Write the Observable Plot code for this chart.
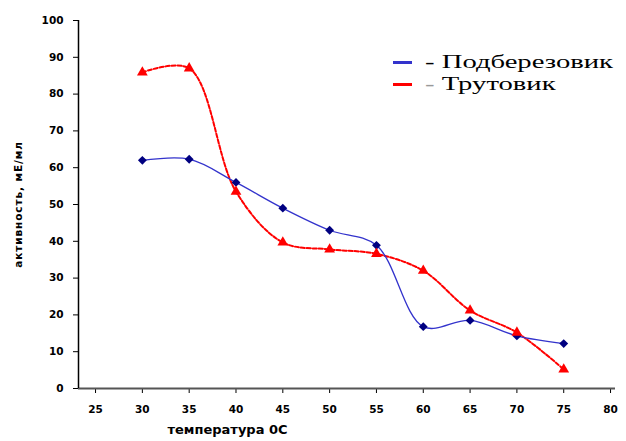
<!DOCTYPE html>
<html>
<head>
<meta charset="utf-8">
<script src="https://cdn.jsdelivr.net/npm/d3@7"></script>
<script src="https://cdn.jsdelivr.net/npm/@observablehq/plot@0.6"></script>
<style>
  html, body { margin: 0; padding: 0; background: #fff; }
  #wrap { position: relative; width: 626px; height: 441px; }
  #legend { position: absolute; left: 393px; top: 51px; font-family: "Liberation Serif", "Times New Roman", serif; font-size: 18px; line-height: 22px; color: #000; }
  #legend .row { display: flex; align-items: center; white-space: nowrap; height: 22px; }
  #legend .sw { display: inline-block; width: 19px; height: 3px; margin-right: 13px; }
  #legend .txt { display: inline-block; transform-origin: left center; }
</style>
</head>
<body>
<div id="wrap">
  <div id="chart"></div>
  <div id="legend"></div>
</div>
<script>
const temperatures = [30, 35, 40, 45, 50, 55, 60, 65, 70, 75];
const podberezovik = [62, 62.3, 56, 49, 43, 38.9, 16.8, 18.5, 14.3, 12.2];
const trutovik = [85.9, 87, 53.5, 39.7, 37.8, 36.6, 32, 21.2, 15.2, 5.2];
const seriesNames = ["Подберезовик", "Трутовик"];
const seriesColors = ["#3333cc", "#ff0000"];
const markerColors = ["#000080", "#ff0000"];
const xTicks = [25, 30, 35, 40, 45, 50, 55, 60, 65, 70, 75, 80];
const yTicks = [0, 10, 20, 30, 40, 50, 60, 70, 80, 90, 100];
const xLabel = "температура 0С";
const yLabel = "активность, мЕ/мл";

const blue = temperatures.map((t, i) => ({t, v: podberezovik[i]}));
const red = temperatures.map((t, i) => ({t, v: trutovik[i]}));

const chart = Plot.plot({
  width: 626,
  height: 441,
  marginLeft: 78,
  marginRight: 11,
  marginTop: 20,
  marginBottom: 53,
  style: {fontFamily: "'DejaVu Sans', Arial, sans-serif", background: "#fff"},
  x: {domain: [23.18, 80.53]},
  y: {domain: [0, 100]},
  marks: [
    Plot.axisY({ticks: yTicks, tickSize: 5, tickPadding: 10, fontSize: 10.5, fontWeight: "bold",
      style: "letter-spacing:0.6px",
      label: yLabel, labelAnchor: "center", labelOffset: 64, labelArrow: "none"}),
    Plot.axisX({ticks: xTicks, tickSize: 5, tickPadding: 12, fontSize: 10.5, fontWeight: "bold",
      style: "letter-spacing:1px", label: null}),
    Plot.text([xLabel], {frameAnchor: "bottom-left", dx: 89, dy: 45, textAnchor: "start",
      fontSize: 13, fontWeight: "bold", fill: "#000", style: "letter-spacing:1.3px"}),
    Plot.ruleY([0], {stroke: "#555", strokeWidth: 1.8}),
    Plot.ruleX([23.18], {stroke: "#000", strokeWidth: 1.5}),
    Plot.line(red, {x: "t", y: "v", curve: "catmull-rom", stroke: seriesColors[1], strokeWidth: 2, strokeDasharray: "4,2"}),
    Plot.line(blue, {x: "t", y: "v", curve: "catmull-rom", stroke: seriesColors[0], strokeWidth: 1.3}),
    Plot.dot(blue, {x: "t", y: "v", symbol: "diamond2", r: 4, fill: markerColors[0], stroke: "none"}),
    Plot.dot(red, {x: "t", y: "v", symbol: "triangle", r: 4, fill: markerColors[1], stroke: "none"})
  ]
});
document.getElementById("chart").appendChild(chart);
chart.querySelectorAll("text").forEach(t => {
  if (t.textContent === yLabel) {
    t.setAttribute("font-size", "10.5");
    t.setAttribute("font-weight", "bold");
    t.style.letterSpacing = "0.9px";
  }
});

const legend = document.getElementById("legend");
const dashColors = ["#000", "#999"];
const targetWidth = 188; // width of "- Подберезовик" in reference
const spans = [];
seriesNames.forEach((n, i) => {
  const row = document.createElement("div");
  row.className = "row";
  row.innerHTML = `<span class="sw" style="background:${seriesColors[i]}"></span><span class="txt"><span style="color:${dashColors[i]}">-</span> ${n}</span>`;
  legend.appendChild(row);
  spans.push(row.querySelector(".txt"));
});
const w = spans[0].getBoundingClientRect().width;
const s = targetWidth / w;
spans.forEach(sp => sp.style.transform = `scaleX(${s})`);
</script>
</body>
</html>
